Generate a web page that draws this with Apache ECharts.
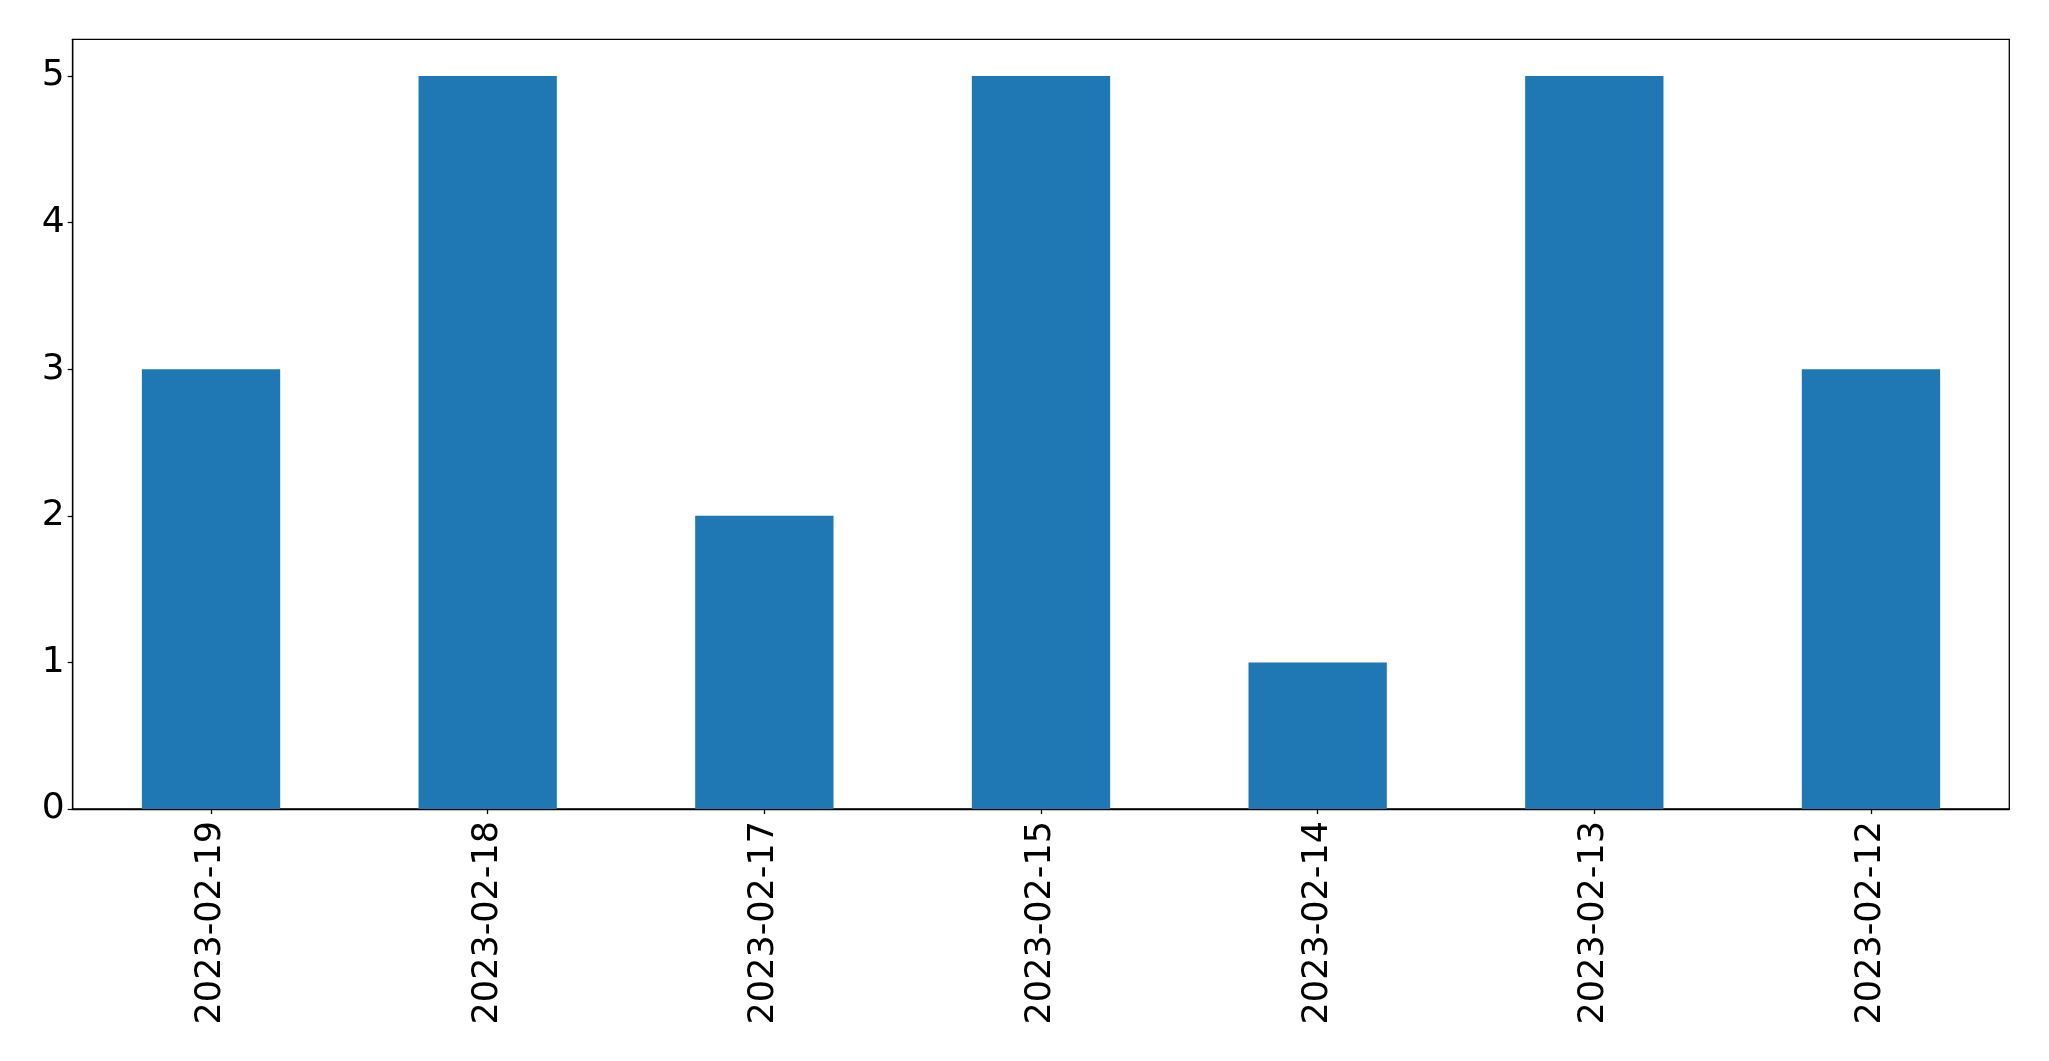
<!DOCTYPE html>
<html>
<head>
<meta charset="utf-8">
<script src="https://cdn.jsdelivr.net/npm/echarts@6/dist/echarts.min.js"></script>
<style>
html,body{margin:0;padding:0;background:#fff;}
#chart{width:2049px;height:1061px;}
</style>
</head>
<body>
<div id="chart"></div>
<script>
const categories = ['2023-02-19','2023-02-18','2023-02-17','2023-02-15','2023-02-14','2023-02-13','2023-02-12'];
const values = [3,5,2,5,1,5,3];
const yTicks = [0,1,2,3,4,5];

const chart = echarts.init(document.getElementById('chart'), null, {renderer:'canvas'});
chart.setOption({
  animation: false,
  backgroundColor: '#fff',
  grid: {left: 72.7, top: 39.3, right: 39.7, bottom: 252, show: true, borderColor: '#000', borderWidth: 1.3, backgroundColor: 'transparent'},
  xAxis: {
    type: 'category',
    data: categories,
    axisLine: {show: true, lineStyle: {color: '#000', width: 1.3}},
    axisTick: {show: true, alignWithLabel: true, length: 5, lineStyle: {color: '#000', width: 1.3}},
    axisLabel: {rotate: 90, color: '#000', fontFamily: 'DejaVu Sans', fontSize: 35, margin: 12, interval: 0},
    splitLine: {show: false}
  },
  yAxis: {
    type: 'value',
    min: 0, max: 5.25, interval: 1,
    axisLine: {show: true, lineStyle: {color: '#000', width: 1.3}},
    axisTick: {show: true, length: 5, customValues: yTicks, lineStyle: {color: '#000', width: 1.3}},
    axisLabel: {color: '#000', fontFamily: 'DejaVu Sans', fontSize: 36, margin: 8, customValues: yTicks,
      formatter: v => yTicks.includes(v) ? String(v) : ''},
    splitLine: {show: false}
  },
  series: [{
    type: 'bar',
    data: values,
    barWidth: '50%',
    itemStyle: {color: '#1f77b4'}
  }]
});
</script>
</body>
</html>
